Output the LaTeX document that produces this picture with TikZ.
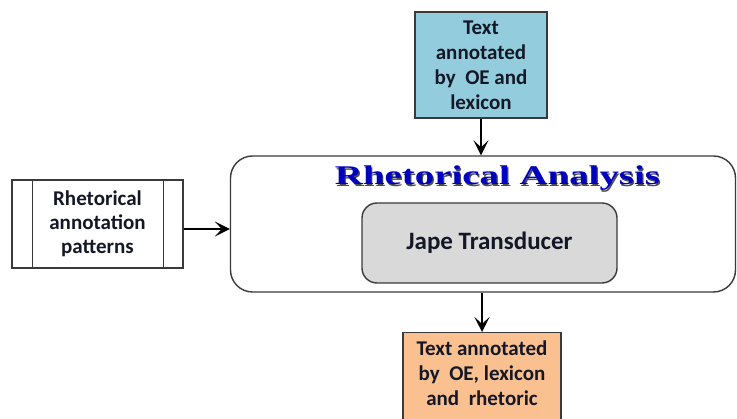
\documentclass[tikz,border=0pt]{standalone}
\usepackage{fontspec}
\setmainfont{Carlito}
\newfontfamily\titlefont{Liberation Serif}
\usetikzlibrary{arrows.meta}
\definecolor{boxline}{HTML}{3A3A3A}
\definecolor{txt}{HTML}{141826}
\definecolor{topfill}{HTML}{93CDDD}
\definecolor{botfill}{HTML}{FAC090}
\definecolor{japefill}{HTML}{D9D9D9}
\definecolor{titleblue}{HTML}{0000C0}
\begin{document}
\begin{tikzpicture}[x=1pt,y=-1pt,
  every node/.style={font=\bfseries\fontsize{21}{25}\selectfont, text=txt},
  databox/.style={draw=boxline, line width=1.4pt, align=center, inner sep=0pt},
  arr/.style={draw=black, line width=1.4pt, -{Stealth[length=15pt,width=15pt,inset=7pt]}},
]
\useasboundingbox (0,0) rectangle (737,419);
\begin{scope}
\clip (0,0) rectangle (737,419);
% big container
\node[draw=boxline, line width=1.4pt, rounded corners=22pt, minimum width=505pt, minimum height=136pt, inner sep=0pt] (big) at (483,224) {};
% title with shadow
\node[anchor=base, text=black!70, font=\titlefont\bfseries\fontsize{27}{27}\selectfont] at (498.7,186.2) {\scalebox{1.44}[1]{Rhetorical Analysis}};
\node[anchor=base, text=titleblue, font=\titlefont\bfseries\fontsize{27}{27}\selectfont] (title) at (497.5,185) {\scalebox{1.44}[1]{Rhetorical Analysis}};
% jape
\node[draw=boxline, line width=1.4pt, fill=japefill, rounded corners=15pt, minimum width=255pt, minimum height=80pt, inner sep=0pt, font=\bfseries\fontsize{25}{25}\selectfont] (jape) at (489.5,243) {Jape Transducer};
% top input
\node[databox, fill=topfill, minimum width=132pt, minimum height=106pt] (top) at (481,65) {Text\\annotated\\by\ \ OE and\\lexicon};
% left patterns
\node[databox, fill=white, minimum width=171pt, minimum height=88pt, font=\bfseries\fontsize{21}{24}\selectfont] (left) at (97.5,224) {Rhetorical\\annotation\\patterns};
\draw[boxline, line width=1.4pt] ([xshift=21pt]left.north west) -- ([xshift=21pt]left.south west);
\draw[boxline, line width=1.4pt] ([xshift=-20pt]left.north east) -- ([xshift=-20pt]left.south east);
% bottom output
\node[databox, fill=botfill, anchor=north, minimum width=158pt, inner ysep=8pt] (bot) at (482,332) {Text annotated\\by\ \ OE, lexicon\\and\ \ rhetoric\\\mbox{}};
% connectors
\draw[arr] (top.south) -- (top.south |- big.north);
\draw[arr] ([yshift=-5pt]left.east) -- ([yshift=-5pt]left.east -| big.west);
\draw[arr] (bot.north |- big.south) -- (bot.north);
\end{scope}
\end{tikzpicture}
\end{document}
